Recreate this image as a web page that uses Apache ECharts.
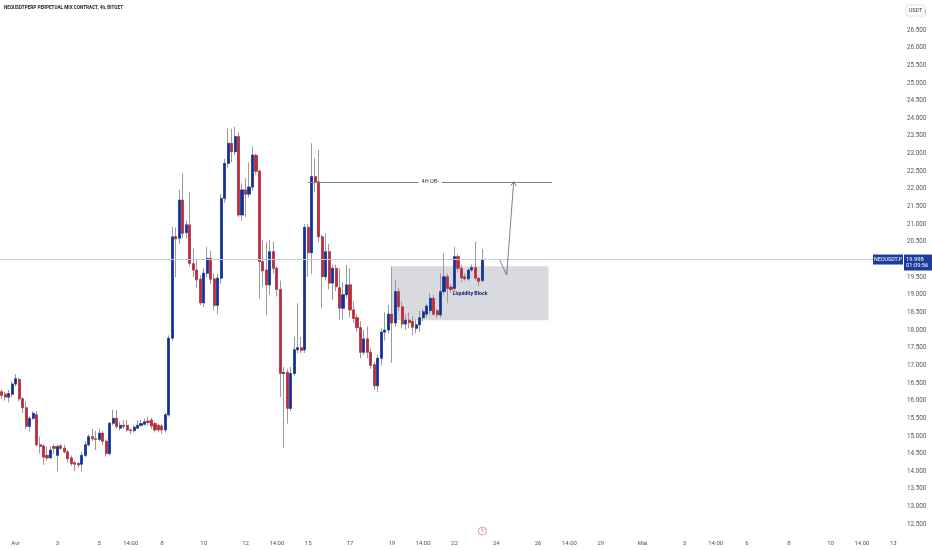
<!DOCTYPE html>
<html>
<head>
<meta charset="utf-8">
<script src="https://cdn.jsdelivr.net/npm/echarts@6/dist/echarts.min.js"></script>
<style>
html,body{margin:0;padding:0;background:#fff;}
#c{width:932px;height:550px;}
</style>
</head>
<body>
<div id="c"></div>
<script>
// ---- data (4h candles, NEOUSDT.P Bitget) ----
const open = [16.25,16.18,16.10,16.18,16.47,16.60,16.05,15.80,15.27,15.50,15.60,14.75,14.72,14.45,14.38,14.70,14.45,14.72,14.65,14.55,14.38,14.24,14.22,14.20,14.45,14.75,14.98,14.92,14.90,15.08,14.85,14.50,15.36,15.50,15.22,15.30,15.30,15.17,15.15,15.22,15.30,15.33,15.42,15.45,15.35,15.30,15.28,15.17,15.60,17.77,20.65,20.60,21.68,20.76,20.98,19.88,19.70,19.44,18.77,19.61,20.03,19.45,18.70,19.47,21.73,22.72,23.29,23.05,23.48,21.26,21.97,21.85,22.05,22.95,22.50,19.94,19.70,19.28,20.22,19.75,19.15,16.77,16.80,15.78,16.77,17.44,17.50,17.44,20.91,20.19,22.35,22.20,20.64,19.51,20.22,19.33,19.75,19.20,18.62,19.00,19.28,18.57,18.35,18.07,17.37,17.75,17.37,17.02,16.42,17.20,17.94,18.00,18.45,18.20,19.09,18.66,18.17,18.28,18.25,18.05,18.15,18.35,18.45,18.55,18.90,18.55,18.43,19.09,19.51,19.22,19.18,20.08,19.75,19.51,19.45,19.70,19.77,19.47,19.40];
const close = [16.15,16.10,16.20,16.47,16.62,16.05,15.80,15.27,15.50,15.64,14.75,14.70,14.40,14.38,14.60,14.65,14.70,14.65,14.55,14.36,14.22,14.20,14.18,14.45,14.75,14.98,14.92,14.90,15.08,14.85,14.50,15.36,15.50,15.27,15.30,15.27,15.17,15.15,15.25,15.30,15.35,15.40,15.38,15.28,15.17,15.17,15.17,15.60,17.77,20.64,20.58,21.68,20.74,20.98,19.89,19.70,19.42,18.77,19.61,20.03,19.44,18.70,19.47,21.73,22.72,23.29,23.05,23.48,21.26,21.97,21.85,22.05,22.96,22.50,19.94,19.68,19.28,20.22,19.75,19.15,16.77,16.80,15.78,16.77,17.44,17.50,17.42,20.91,20.19,22.35,22.20,20.64,19.51,20.22,19.33,19.75,19.23,18.62,19.00,19.28,18.57,18.33,18.07,17.37,17.75,17.37,17.00,16.42,17.20,17.94,18.00,18.45,18.20,19.09,18.66,18.17,18.28,18.21,18.08,18.15,18.35,18.52,18.68,18.90,18.45,18.43,19.09,19.51,19.18,19.15,20.08,19.75,19.48,19.45,19.70,19.77,19.47,19.38,19.998];
const high = [16.32,16.25,16.30,16.55,16.75,16.65,16.10,15.97,15.55,15.70,15.70,14.98,14.75,14.70,14.70,14.75,14.75,14.78,14.75,14.60,14.45,14.30,14.26,14.55,14.85,15.05,15.20,15.15,15.20,15.15,14.90,15.40,15.74,15.74,15.40,15.45,15.45,15.22,15.30,15.45,15.45,15.50,15.55,15.52,15.40,15.35,15.35,15.65,17.85,20.93,20.90,21.97,22.44,21.10,21.90,20.30,20.00,19.55,19.75,20.36,20.25,19.60,19.60,21.85,22.85,23.72,23.70,23.76,23.60,22.15,22.30,22.75,23.20,23.00,22.55,20.55,20.50,20.55,20.50,19.80,19.40,16.95,16.90,16.95,17.81,18.76,17.80,21.00,21.00,23.29,22.87,23.10,20.70,20.74,20.45,19.85,19.85,19.75,19.35,19.84,19.75,18.80,18.45,18.25,18.00,18.10,17.50,17.10,17.30,18.05,18.50,18.71,19.80,19.42,19.20,18.80,18.45,18.50,18.40,18.30,18.55,18.60,18.75,19.05,19.00,18.60,19.60,20.17,19.60,19.30,20.36,20.15,19.85,19.60,19.75,19.85,20.50,19.50,20.30];
const low = [16.05,16.00,15.95,16.10,16.40,15.98,15.65,15.20,15.12,15.45,14.70,14.50,14.18,14.30,14.35,14.48,14.00,14.60,14.50,14.25,14.15,14.00,14.10,14.00,14.40,14.70,14.85,14.60,14.85,14.75,14.41,14.45,15.30,15.20,15.15,15.20,15.12,15.05,15.10,15.20,15.25,15.30,15.30,15.20,15.10,15.10,15.05,15.10,15.55,17.70,19.50,20.45,20.60,20.60,19.80,19.50,19.20,18.70,18.65,19.50,19.30,18.55,18.45,19.30,21.60,22.60,22.75,22.95,21.20,21.10,21.20,21.75,21.95,22.40,18.90,19.23,18.43,19.00,19.60,18.95,16.11,14.66,15.35,15.70,16.70,17.35,17.35,17.35,19.51,19.60,21.90,20.50,18.62,19.40,19.15,18.85,19.10,18.30,18.30,18.90,18.35,18.20,17.95,17.20,17.30,17.20,16.90,16.30,16.25,17.00,17.70,17.90,17.07,18.10,18.55,18.05,18.00,18.05,17.85,17.90,17.95,18.25,18.35,18.45,18.40,18.35,18.35,19.00,18.76,19.05,19.10,19.65,19.35,19.40,19.40,19.65,19.40,19.25,19.35];

// time slots (4h) and the visible time-axis tick labels
const startUTC = Date.UTC(2024, 2, 31, 10);
const slotCount = 259;
const categories = [];
for (let i = 0; i < slotCount; i++) {
  const d = new Date(startUTC + i * 4 * 3600 * 1000);
  const p = n => String(n).padStart(2, '0');
  categories.push(p(d.getUTCMonth() + 1) + '-' + p(d.getUTCDate()) + ' ' + p(d.getUTCHours()) + ':00');
}
const tickLabels = [
  ['04-01 02:00','Avr'],['04-03 02:00','3'],['04-05 02:00','5'],['04-06 14:00','14:00'],
  ['04-08 02:00','8'],['04-10 02:00','10'],['04-12 02:00','12'],['04-13 14:00','14:00'],
  ['04-15 02:00','15'],['04-17 02:00','17'],['04-19 02:00','19'],['04-20 14:00','14:00'],
  ['04-22 02:00','22'],['04-24 02:00','24'],['04-26 02:00','26'],['04-27 14:00','14:00'],
  ['04-29 02:00','29'],['05-01 02:00','Mai'],['05-03 02:00','3'],['05-04 14:00','14:00'],
  ['05-06 02:00','6'],['05-08 02:00','8'],['05-10 02:00','10'],['05-11 14:00','14:00'],
  ['05-13 02:00','13']
];
const lastPrice = 19.998;
const countdown = '01:09:56';
const obLevel = 22.2;            // 4H OB
const obFrom = 88, obTo = 158;   // candle slot indices
const liqTop = 19.81, liqBottom = 18.28, liqFrom = 112, liqTo = 157;
const arrowPath = [[143, 19.98], [145, 19.56], [147, 22.2]];
const eventSlot = 138;

const tickMap = {};
tickLabels.forEach(t => tickMap[t[0]] = t[1]);

const BLUE = '#0d2fa0', RED = '#c2283a', WICK = '#9a9a9a';
const wickData = open.map((o, i) => [o, close[i], low[i], high[i]]);
const bodyData = open.map((o, i) => [o, close[i], Math.min(o, close[i]), Math.max(o, close[i])]);

const chart = echarts.init(document.getElementById('c'));
chart.setOption({
  animation: false,
  backgroundColor: '#ffffff',
  grid: { left: 0, right: 30, top: 0, bottom: 8.15 },
  xAxis: {
    type: 'category', data: categories, boundaryGap: true,
    axisLine: { show: false }, axisTick: { show: false }, splitLine: { show: false },
    axisLabel: {
      interval: (idx, val) => tickMap[val] !== undefined,
      formatter: val => tickMap[val] || '',
      fontSize: 6, color: '#50535e', margin: 1.5, verticalAlign: 'middle',
      fontFamily: 'Roboto'
    }
  },
  yAxis: {
    type: 'value', position: 'right', min: 12, max: 27.35, interval: 0.5,
    axisLine: { show: false }, axisTick: { show: false }, splitLine: { show: false },
    axisLabel: {
      formatter: v => v.toFixed(3), fontSize: 6.3, color: '#50535e',
      align: 'left', margin: 5, showMinLabel: false, showMaxLabel: false,
      fontFamily: 'Roboto'
    }
  },
  series: [
    {
      type: 'candlestick', name: 'wick', data: wickData, barWidth: 2.6, z: 2,
      itemStyle: { color: WICK, color0: WICK, borderColor: WICK, borderColor0: WICK, borderWidth: 1 },
      markArea: {
        silent: true,
        itemStyle: { color: 'rgba(150,153,168,0.36)' },
        data: [[{ coord: [categories[liqFrom], liqTop] }, { coord: [categories[liqTo], liqBottom] }]]
      },
      markLine: {
        silent: true, symbol: ['none', 'none'],
        data: [
          [{ coord: [categories[obFrom], obLevel] }, { coord: [categories[obTo], obLevel] }],
          { yAxis: lastPrice, label: { show: false }, lineStyle: { color: '#c3c9dc', width: 1, type: 'solid' } }
        ],
        lineStyle: { color: '#808080', width: 1, type: 'solid' },
        label: {
          show: true, position: 'middle', formatter: '4H OB-', fontSize: 5.5, color: '#333',
          backgroundColor: '#fff', padding: [0, 3], distance: -3, fontFamily: 'Roboto'
        }
      }
    },
    {
      type: 'candlestick', name: 'body', data: bodyData, barWidth: 2.6, z: 3,
      itemStyle: { color: BLUE, color0: RED, borderColor: BLUE, borderColor0: RED, borderWidth: 0.5 }
    }
  ]
});

// ---- overlays positioned through the chart's own scales ----
function px(slot, price) { return chart.convertToPixel({ gridIndex: 0 }, [slot, price]); }
const mctx = document.createElement('canvas').getContext('2d');
function fit(text, font, target) { mctx.font = font; return target / mctx.measureText(text).width; }

const titleText = 'NEOUSDTPERP PERPETUAL MIX CONTRACT, 4h, BITGET';
const titleScale = fit(titleText, 'bold 5.5px Roboto', 119);
const liqText = 'Liquidity Block';
const liqScale = fit(liqText, 'bold 6px Roboto', 35);

const yLast = px(0, lastPrice)[1];
const arrowPts = arrowPath.map(p => px(p[0], p[1]));
const tip = arrowPts[arrowPts.length - 1];
const liqA = px(liqFrom, liqTop), liqB = px(liqTo, liqBottom);
const liqC = [(liqA[0] + liqB[0]) / 2, (liqA[1] + liqB[1]) / 2];
const ev = px(eventSlot, 12)[0];

chart.setOption({
  graphic: [
    { type: 'text', left: 4, top: 4.5, scaleX: titleScale, z: 20,
      style: { text: titleText, font: 'bold 5.5px Roboto', fill: '#1b1e2b' } },
    { type: 'rect', shape: { x: 906, y: 5, width: 19, height: 11, r: 2 }, z: 20,
      style: { fill: '#fff', stroke: '#d6d8df', lineWidth: 0.8 } },
    { type: 'text', x: 915.5, y: 10.5, z: 21,
      style: { text: 'USDT', font: '5.5px Roboto', fill: '#333', align: 'center', verticalAlign: 'middle' } },
    { type: 'rect', shape: { x: 873, y: yLast - 5, width: 30, height: 10 }, z: 20, style: { fill: '#1c3d9c' } },
    { type: 'text', x: 888, y: yLast, z: 21,
      style: { text: 'NEOUSDT.P', font: '5.3px Roboto', fill: '#fff', align: 'center', verticalAlign: 'middle' } },
    { type: 'rect', shape: { x: 904, y: yLast - 5, width: 28, height: 16 }, z: 20, style: { fill: '#1c3d9c' } },
    { type: 'text', x: 906, y: yLast, z: 21,
      style: { text: lastPrice.toFixed(3), font: '5.8px Roboto', fill: '#fff', align: 'left', verticalAlign: 'middle' } },
    { type: 'text', x: 906, y: yLast + 6.5, z: 21,
      style: { text: countdown, font: '5.8px Roboto', fill: '#fff', align: 'left', verticalAlign: 'middle' } },
    { type: 'polyline', z: 15, shape: { points: arrowPts },
      style: { stroke: '#5f6068', lineWidth: 0.8, fill: null } },
    { type: 'polyline', z: 15, shape: { points: [[tip[0] - 3, tip[1] + 4], tip, [tip[0] + 3, tip[1] + 4.5]] },
      style: { stroke: '#5f6068', lineWidth: 0.8, fill: null } },
    { type: 'text', x: liqC[0], y: liqC[1], scaleX: liqScale, originX: 0, originY: 0, z: 15,
      style: { text: liqText, font: 'bold 6px Roboto', fill: '#1c2566', align: 'center', verticalAlign: 'middle' } },
    { type: 'circle', z: 15, shape: { cx: ev, cy: 531, r: 4 },
      style: { fill: '#fff', stroke: '#e07a98', lineWidth: 0.8 } },
    { type: 'text', x: ev, y: 531, z: 16,
      style: { text: 'ϟ', font: '5px DejaVu Sans', fill: '#cc4f72', align: 'center', verticalAlign: 'middle' } }
  ]
});
</script>
</body>
</html>
